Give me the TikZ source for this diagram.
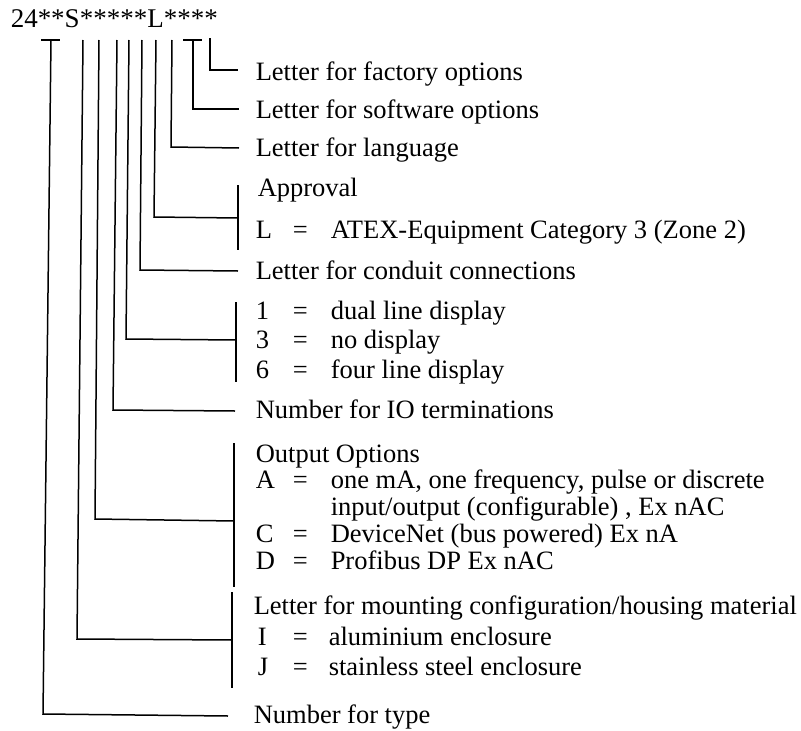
\documentclass[tikz,border=0pt]{standalone}
\usepackage{fontspec}
\setmainfont{Liberation Serif}
\begin{document}
\begin{tikzpicture}[x=1pt,y=-1pt,line width=1.5pt,
  lbl/.style={anchor=base west,inner sep=0pt,font=\fontsize{26.5}{30}\selectfont},
  codelbl/.style={anchor=base west,inner sep=0pt,font=\fontsize{27}{30}\selectfont},
  wire/.style={line width=1.5pt}]
\useasboundingbox (0,0) rectangle (801,731);
\node[codelbl] (code) at (10,27) {24**S*****L****};

% labels
\node[lbl] (t10) at (255,80) {Letter for factory options};
\node[lbl] (t9) at (255,118) {Letter for software options};
\node[lbl] (t8) at (255,156) {Letter for language};
\node[lbl] (t7a) at (257,196) {Approval};
\node[lbl] (t7b) at (255,238) {L};
\node[lbl] (t7c) at (292,238) {=};
\node[lbl] (t7d) at (330,238) {ATEX-Equipment Category 3 (Zone 2)};
\node[lbl] (t6) at (255,279) {Letter for conduit connections};
\node[lbl] (t5a) at (255,319) {1};
\node[lbl] (t5b) at (292,319) {=};
\node[lbl] (t5c) at (330,319) {dual line display};
\node[lbl] (t5d) at (255,348) {3};
\node[lbl] (t5e) at (292,348) {=};
\node[lbl] (t5f) at (330,348) {no display};
\node[lbl] (t5g) at (255,378) {6};
\node[lbl] (t5h) at (292,378) {=};
\node[lbl] (t5i) at (330,378) {four line display};
\node[lbl] (t4) at (255,418) {Number for IO terminations};
\node[lbl] (t3a) at (255,462) {Output Options};
\node[lbl] (t3b) at (255,488) {A};
\node[lbl] (t3c) at (292,488) {=};
\node[lbl] (t3d) at (330,488) {one mA, one frequency, pulse or discrete};
\node[lbl] (t3e) at (330,515) {input/output (configurable) , Ex nAC};
\node[lbl] (t3f) at (255,542) {C};
\node[lbl] (t3g) at (292,542) {=};
\node[lbl] (t3h) at (330,542) {DeviceNet (bus powered) Ex nA};
\node[lbl] (t3i) at (255,569) {D};
\node[lbl] (t3j) at (292,569) {=};
\node[lbl] (t3k) at (330,569) {Profibus DP Ex nAC};
\node[lbl] (t2a) at (253,614) {Letter for mounting configuration/housing material};
\node[lbl] (t2b) at (257,645) {I};
\node[lbl] (t2c) at (292,645) {=};
\node[lbl] (t2d) at (328,645) {aluminium enclosure};
\node[lbl] (t2e) at (257,675) {J};
\node[lbl] (t2f) at (292,675) {=};
\node[lbl] (t2g) at (328,675) {stainless steel enclosure};
\node[lbl] (t1) at (253,723) {Number for type};

% connector points
\coordinate (a1) at (51,40);  \coordinate (b1) at (43,714);  \coordinate (c1) at (228,716);
\coordinate (a2) at (83,40);  \coordinate (b2) at (77,639);  \coordinate (c2) at (232,640);
\coordinate (a3) at (99,40);  \coordinate (b3) at (95,519);  \coordinate (c3) at (234,521);
\coordinate (a4) at (117,40); \coordinate (b4) at (113,410); \coordinate (c4) at (235,411);
\coordinate (a5) at (129,40); \coordinate (b5) at (126,339); \coordinate (c5) at (236,340);
\coordinate (a6) at (142,40); \coordinate (b6) at (140,270); \coordinate (c6) at (238,271);
\coordinate (a7) at (156,40); \coordinate (b7) at (154,217); \coordinate (c7) at (238,218);
\coordinate (a8) at (172,40); \coordinate (b8) at (171,147); \coordinate (c8) at (239,148);
\coordinate (a9) at (193,40); \coordinate (b9) at (193,109); \coordinate (c9) at (239,109);
\coordinate (a10) at (210,38); \coordinate (b10) at (210,70); \coordinate (c10) at (238,70);

% crossbars
\coordinate (x1l) at (41,40); \coordinate (x1r) at (60,40);
\coordinate (x9l) at (183,40); \coordinate (x9r) at (202,40);
\draw[wire] (x1l) -- (x1r);
\draw[wire] (x9l) -- (x9r);

\foreach \i in {1,...,10}{
  \draw[wire,line join=miter] (a\i) -- (b\i) -- (c\i);
}

% brackets
\coordinate (k7t) at (238,185); \coordinate (k7b) at (238,250);
\coordinate (k5t) at (236,302); \coordinate (k5b) at (236,382);
\coordinate (k3t) at (234,443); \coordinate (k3b) at (234,587);
\coordinate (k2t) at (232,592); \coordinate (k2b) at (232,688);
\draw[wire] (k7t) -- (k7b);
\draw[wire] (k5t) -- (k5b);
\draw[wire] (k3t) -- (k3b);
\draw[wire] (k2t) -- (k2b);
\end{tikzpicture}
\end{document}
